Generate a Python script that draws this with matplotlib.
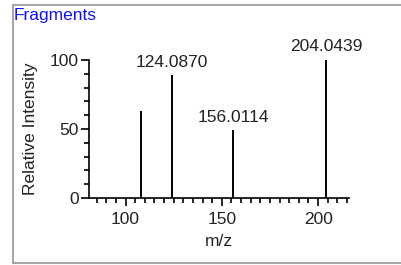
import matplotlib
matplotlib.use("Agg")
import matplotlib.pyplot as plt
from matplotlib.lines import Line2D
from matplotlib.ticker import MultipleLocator

# peak data
mz = [108.0, 124.0870, 156.0114, 204.0439]
intensity = [63, 89, 49, 100]
labels = ["", "124.0870", "156.0114", "204.0439"]

plt.rcParams['font.family'] = ['Liberation Sans', 'DejaVu Sans']
fs = 12.5

fig = plt.figure(figsize=(4.01, 2.65), dpi=100)
ax = fig.add_axes([0.222, 0.253, 0.648, 0.521])

ax.vlines(mz, 0, intensity, colors='black', linewidth=1.4, clip_on=False)
for x, y, t in zip(mz, intensity, labels):
    if t:
        ax.annotate(t, (x, y), xytext=(0, 4), textcoords='offset points',
                    ha='center', va='bottom', fontsize=fs, color='#222222')

ax.set_xlim(81, 216)
ax.set_ylim(0, 100)
ax.xaxis.set_major_locator(MultipleLocator(50))
ax.xaxis.set_minor_locator(MultipleLocator(5))
ax.yaxis.set_major_locator(MultipleLocator(50))
ax.yaxis.set_minor_locator(MultipleLocator(10))
ax.tick_params(which='major', length=6, width=1.2, labelsize=fs, labelcolor='#222222')
ax.tick_params(axis='x', which='major', pad=4)
ax.tick_params(axis='y', which='major', pad=1.5)
ax.tick_params(which='minor', length=3.5, width=1.2)
for s in ['top', 'right']:
    ax.spines[s].set_visible(False)
for s in ['left', 'bottom']:
    ax.spines[s].set_linewidth(1.2)

ax.set_xlabel('m/z', fontsize=fs, labelpad=5, color='#222222')
ax.set_ylabel('Relative Intensity', fontsize=fs, labelpad=8, color='#222222')

# outer panel frame (left, top, bottom only)
gray = '#a8a8a8'
fig.add_artist(Line2D([0.032, 1.0], [0.983, 0.983], color=gray, lw=1.5, transform=fig.transFigure))
fig.add_artist(Line2D([0.032, 1.0], [0.008, 0.008], color=gray, lw=1.5, transform=fig.transFigure))
fig.add_artist(Line2D([0.032, 0.032], [0.008, 0.983], color=gray, lw=1.5, transform=fig.transFigure))
fig.text(0.034, 0.968, 'Fragments', color='#1010ff', fontsize=fs, ha='left', va='top')

fig.savefig('out.png', dpi=100)
